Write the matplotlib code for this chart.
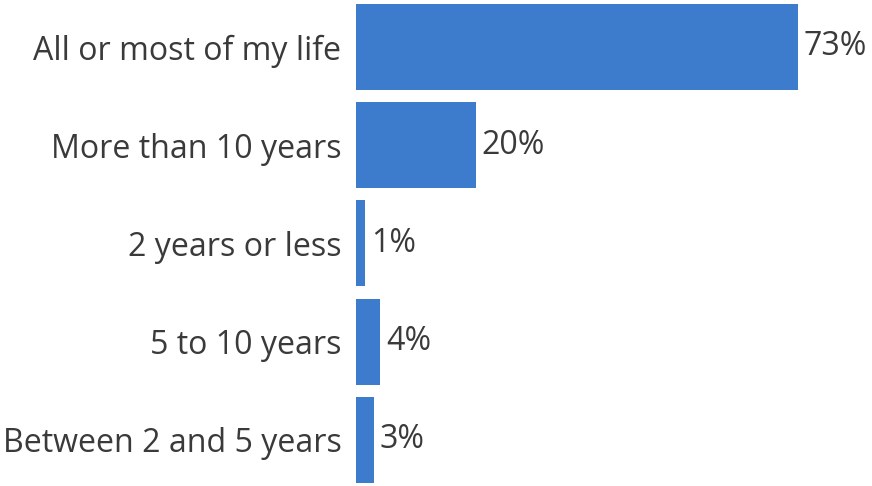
import matplotlib
matplotlib.use("Agg")
import matplotlib.pyplot as plt

categories = ["All or most of my life", "More than 10 years", "2 years or less",
              "5 to 10 years", "Between 2 and 5 years"]
values = [73.0, 19.8, 1.5, 4.0, 2.9]
value_labels = ["73%", "20%", "1%", "4%", "3%"]

plt.rcParams['font.family'] = ['Open Sans', 'DejaVu Sans']
W, H = 872, 486
fig = plt.figure(figsize=(W / 100, H / 100), dpi=100)
left, right = 356, 871
top, bottom = 4, 482.7
ax = fig.add_axes([left / W, 1 - bottom / H, (right - left) / W, (bottom - top) / H])

bar_h = 0.875
pos = list(range(len(categories)))
ax.barh(pos, values, height=bar_h, color="#3D7CCC")
ax.set_ylim(len(categories) - 1 + bar_h / 2, -bar_h / 2)
px_per_pct = (798.3 - 356) / 73.0
ax.set_xlim(0, (right - left) / px_per_pct)

text_color = "#3a3a3a"
fs = 23.1
ax.set_yticks(pos)
ax.set_yticklabels(categories, fontsize=fs, color=text_color)
ax.tick_params(axis='y', length=0, pad=10.5)
ax.set_xticks([])
for s in ax.spines.values():
    s.set_visible(False)

for p, v, lab in zip(pos, values, value_labels):
    ax.annotate(lab, xy=(v, p), xytext=(4.0, 0), textcoords="offset points",
                va="center", ha="left", fontsize=fs, color=text_color)

fig.savefig("out.png", dpi=100)
